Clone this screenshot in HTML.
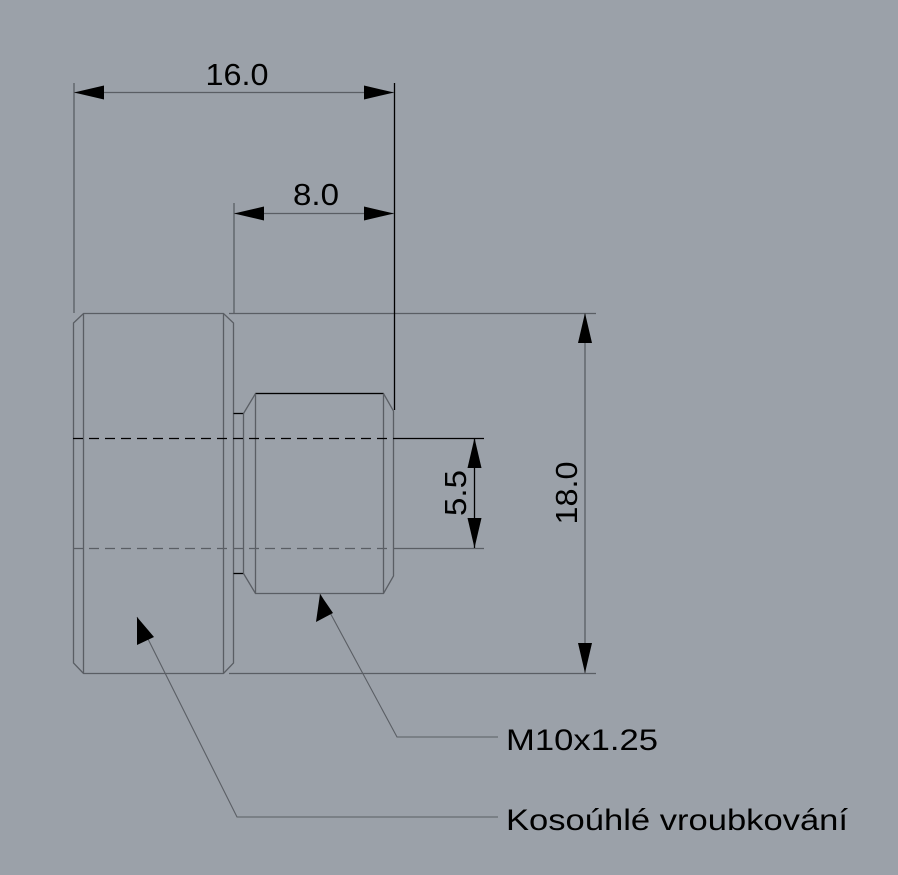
<!DOCTYPE html>
<html><head><meta charset="utf-8"><style>
html,body{margin:0;padding:0;background:#9ba1a9;}
svg{display:block}
text{font-family:"Liberation Sans",Arial,sans-serif;fill:#000}
</style></head><body>
<svg width="898" height="875" viewBox="0 0 898 875" xmlns="http://www.w3.org/2000/svg">
<rect width="898" height="875" fill="#9ba1a9"/>
<g fill="none" stroke="#5a5e64" stroke-width="1.3">
<path d="M73.5,323 L83.5,313.5 L223.5,313.5 L233.5,323 L233.5,663 L223.5,673.5 L83.5,673.5 L73.5,663 Z"/>
<line x1="83.5" y1="313.5" x2="83.5" y2="673.5"/>
<line x1="223.5" y1="313.5" x2="223.5" y2="673.5"/>
<line x1="233.5" y1="413.5" x2="243.5" y2="413.5" stroke="#000"/>
<line x1="233.5" y1="573.5" x2="243.5" y2="573.5" stroke="#000"/>
<line x1="243.5" y1="413.5" x2="243.5" y2="573.5"/>
<path d="M243.5,413.5 L255.5,393.5 L383.5,393.5 L393.5,411 L393.5,576 L383.5,593.5 L255.5,593.5 L243.5,573.5"/>
<line x1="255.5" y1="393.5" x2="383.5" y2="393.5" stroke="#000"/>
<line x1="255.5" y1="393.5" x2="255.5" y2="593.5"/>
<line x1="383.5" y1="393.5" x2="383.5" y2="593.5"/>
<line x1="229" y1="313.5" x2="596" y2="313.5"/>
<line x1="229" y1="673.5" x2="596" y2="673.5"/>
<line x1="74" y1="83" x2="74" y2="313"/>
<line x1="234" y1="203" x2="234" y2="313"/>
<line x1="394.5" y1="83" x2="394.5" y2="410" stroke="#000"/>
<line x1="394" y1="438.5" x2="484" y2="438.5" stroke="#000"/>
<line x1="394" y1="548.5" x2="484" y2="548.5"/>
<line x1="74" y1="92.5" x2="394" y2="92.5"/>
<line x1="234" y1="213.5" x2="394" y2="213.5"/>
<line x1="585" y1="313" x2="585" y2="673"/>
<line x1="474.5" y1="438" x2="474.5" y2="548" stroke="#000"/>
<polyline points="320,594 397,737 498,737" stroke-width="1.1"/>
<polyline points="137,617 237,817 498,817" stroke-width="1.1"/>
</g>
<g stroke="#5a5e64" stroke-width="1.3" stroke-dasharray="10,6">
<line x1="73" y1="438.5" x2="394" y2="438.5" stroke="#000"/>
<line x1="73" y1="548.5" x2="394" y2="548.5"/>
</g>
<g fill="#000">
<polygon points="74,92.5 104,85.5 104,99.5"/>
<polygon points="394,92.5 364,85.5 364,99.5"/>
<polygon points="234,213.5 264,206.5 264,220.5"/>
<polygon points="394,213.5 364,206.5 364,220.5"/>
<polygon points="585,313 578,343 592,343"/>
<polygon points="585,673 578,643 592,643"/>
<polygon points="474.5,438 467.5,468 481.5,468"/>
<polygon points="474.5,548 467.5,518 481.5,518"/>
<polygon points="320,594 316,622 333,613"/>
<polygon points="137,617 137,645 154,637"/>
</g>
<text x="237" y="85" font-size="31" text-anchor="middle" textLength="63" lengthAdjust="spacingAndGlyphs">16.0</text>
<text x="316" y="205" font-size="31" text-anchor="middle" textLength="46" lengthAdjust="spacingAndGlyphs">8.0</text>
<text transform="translate(577,493) rotate(-90)" font-size="31" text-anchor="middle" textLength="63" lengthAdjust="spacingAndGlyphs">18.0</text>
<text transform="translate(466,493) rotate(-90)" font-size="31" text-anchor="middle" textLength="46" lengthAdjust="spacingAndGlyphs">5.5</text>
<text x="506" y="750" font-size="30" textLength="152" lengthAdjust="spacingAndGlyphs">M10x1.25</text>
<text x="506" y="830" font-size="30" textLength="342" lengthAdjust="spacingAndGlyphs">Kosoúhlé vroubkování</text>
</svg>
</body></html>
